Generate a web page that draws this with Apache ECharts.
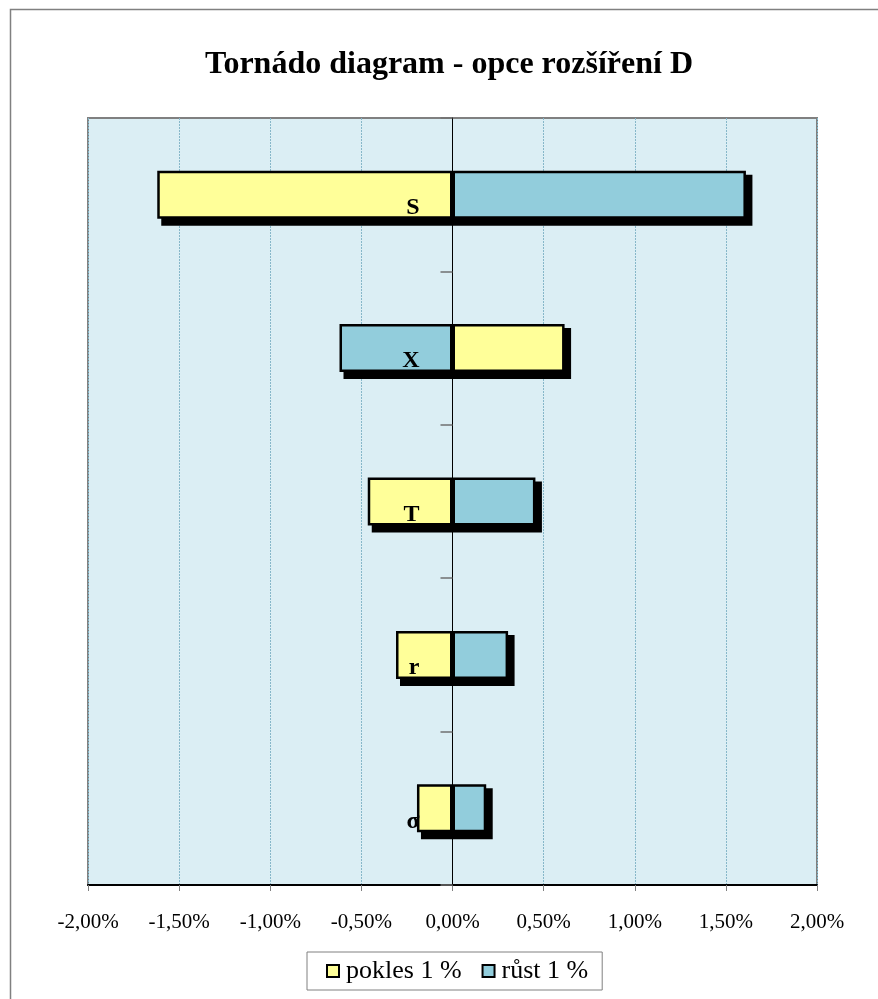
<!DOCTYPE html>
<html>
<head>
<meta charset="utf-8">
<script src="https://cdn.jsdelivr.net/npm/echarts@6/dist/echarts.min.js"></script>
<style>
html,body{margin:0;padding:0;background:#fff;}
#chart{width:878px;height:999px;}
</style>
</head>
<body>
<div id="chart"></div>
<script>
const titleText = 'Tornádo diagram - opce rozšíření D';
const categories = ['S', 'X', 'T', 'r', 'σ'];
const seriesNames = ['pokles 1 %', 'růst 1 %'];
// values in percent
const pokles = [-1.62, 0.615, -0.465, -0.31, -0.195];
const rust = [1.61, -0.62, 0.455, 0.305, 0.185];
const xMin = -2, xMax = 2, xStep = 0.5;

const shadowData = categories.map((c, i) => [i, Math.min(pokles[i], rust[i], 0), Math.max(pokles[i], rust[i], 0)]);

const chart = echarts.init(document.getElementById('chart'));
const FONT = '"Liberation Serif", "Times New Roman", serif';
const BAR_W = 48;
const GRID = { left: 88, top: 118, width: 729, height: 767 };

chart.setOption({
  backgroundColor: '#ffffff',
  animation: false,
  textStyle: { fontFamily: FONT },
  title: {
    text: titleText,
    left: 444,
    textAlign: 'center',
    top: 44,
    textStyle: { fontFamily: FONT, fontSize: 32, fontWeight: 'bold', color: '#000' }
  },
  graphic: [{
    type: 'rect',
    z: -10,
    shape: { x: 10.5, y: 9.5, width: 900, height: 1000 },
    style: { fill: 'none', stroke: '#808080', lineWidth: 1.5 }
  }],
  legend: {
    left: 307,
    top: 952,
    padding: [6, 14, 6, 19],
    borderColor: '#808080',
    borderWidth: 1,
    itemWidth: 12,
    itemHeight: 12,
    itemGap: 20,
    data: seriesNames.map(n => ({ name: n, icon: 'rect' })),
    itemStyle: { borderColor: '#000', borderWidth: 2 },
    textStyle: { fontFamily: FONT, fontSize: 26, color: '#000', padding: [0, 0, 0, 2] }
  },
  grid: Object.assign({
    show: true,
    backgroundColor: '#DBEEF4',
    borderColor: '#808080',
    borderWidth: 2
  }, GRID),
  xAxis: {
    type: 'value',
    min: xMin, max: xMax, interval: xStep,
    axisLine: { show: true, onZero: false, lineStyle: { color: '#000', width: 2 } },
    axisTick: { show: true, length: 6, lineStyle: { color: '#808080' } },
    splitLine: { show: true, lineStyle: { color: '#86B7C9', type: [2, 1], width: 1 } },
    axisLabel: {
      margin: 27,
      fontFamily: FONT, fontSize: 21, color: '#000',
      formatter: v => v.toFixed(2).replace('.', ',') + '%'
    }
  },
  yAxis: {
    type: 'category',
    inverse: true,
    data: categories,
    z: 10,
    offset: -(GRID.width * (0 - xMin) / (xMax - xMin)),
    axisLine: { show: true, onZero: false, lineStyle: { color: '#000', width: 1 } },
    axisTick: { show: true, length: 12, lineStyle: { color: '#707070', width: 1.5 } },
    splitLine: { show: false },
    axisLabel: {
      margin: 33,
      fontFamily: FONT, fontSize: 24, fontWeight: 'bold', color: '#000',
      verticalAlign: 'top',
      lineHeight: 26
    }
  },
  series: [
    {
      type: 'custom',
      name: 'shadow',
      z: 1,
      silent: true,
      data: shadowData,
      encode: { x: [1, 2], y: 0 },
      renderItem: function (params, api) {
        const lo = api.coord([api.value(1), api.value(0)]);
        const hi = api.coord([api.value(2), api.value(0)]);
        const h = BAR_W;
        return {
          type: 'rect',
          shape: { x: lo[0] + 4, y: lo[1] - h / 2 + 4, width: hi[0] - lo[0] + 2.5, height: h + 3 },
          style: { fill: '#000' }
        };
      }
    },
    {
      name: seriesNames[0],
      type: 'bar',
      stack: 'total',
      z: 3,
      barWidth: BAR_W,
      data: pokles,
      itemStyle: { color: '#FFFF99', borderColor: '#000', borderWidth: 2.5 }
    },
    {
      name: seriesNames[1],
      type: 'bar',
      stack: 'total',
      z: 3,
      barWidth: BAR_W,
      data: rust,
      itemStyle: { color: '#92CDDC', borderColor: '#000', borderWidth: 2.5 }
    }
  ]
});
</script>
</body>
</html>
